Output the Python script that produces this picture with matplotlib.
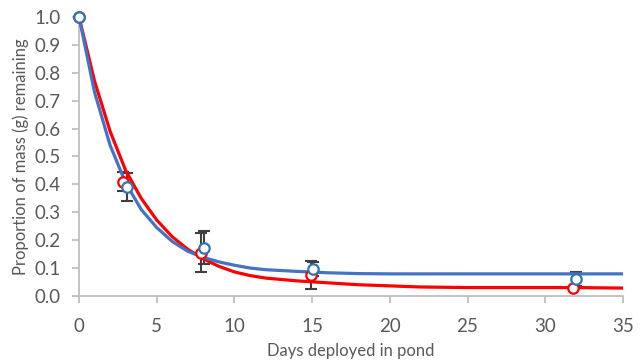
import matplotlib
matplotlib.use("Agg")
import matplotlib.pyplot as plt

# Fitted curves
fit_days = [0, 1, 2, 3, 4, 5, 6, 7, 8, 9, 10, 11, 12, 14, 16, 18, 20, 22, 25, 28, 30, 32, 35]
red_fit = [1.0, 0.77, 0.59, 0.45, 0.35, 0.272, 0.212, 0.167, 0.133, 0.106, 0.086, 0.073,
           0.064, 0.054, 0.047, 0.040, 0.036, 0.032, 0.030, 0.030, 0.030, 0.030, 0.028]
blue_fit = [1.0, 0.73, 0.54, 0.405, 0.31, 0.245, 0.195, 0.16, 0.138, 0.122, 0.11, 0.10,
            0.094, 0.088, 0.083, 0.080, 0.079, 0.079, 0.079, 0.079, 0.079, 0.079, 0.079]

# Observed points
red_days = [0, 2.85, 7.85, 14.93, 31.8]
red_obs = [1.0, 0.41, 0.155, 0.075, 0.028]
red_err = [0.0, 0.035, 0.07, 0.05, 0.0]
blue_days = [0, 3.1, 8.05, 15.05, 32.0]
blue_obs = [1.0, 0.392, 0.173, 0.097, 0.062]
blue_err = [0.0, 0.05, 0.06, 0.025, 0.025]

x_ticks = [0, 5, 10, 15, 20, 25, 30, 35]
y_ticks = [0.0, 0.1, 0.2, 0.3, 0.4, 0.5, 0.6, 0.7, 0.8, 0.9, 1.0]

plt.rcParams['font.family'] = ['Lato', 'DejaVu Sans']
text_color = '#595959'
grey = '#BFBFBF'

fig = plt.figure(figsize=(6.44, 3.6), dpi=100)
ax = fig.add_axes([0.1227, 0.178, 0.8446, 0.775])

ax.errorbar(red_days, red_obs, yerr=red_err, fmt='none', ecolor='#404040',
            elinewidth=1.5, capsize=4, capthick=1.5, zorder=2)
ax.errorbar(blue_days, blue_obs, yerr=blue_err, fmt='none', ecolor='#404040',
            elinewidth=1.5, capsize=4, capthick=1.5, zorder=2)

ax.plot(fit_days, red_fit, color='#FF0000', lw=2.3, zorder=3, solid_capstyle='round')
ax.plot(fit_days, blue_fit, color='#4472C4', lw=2.3, zorder=4, solid_capstyle='round')

ax.plot(red_days, red_obs, 'o', ms=7.5, mfc='white', mec='#FF0000', mew=1.6,
        zorder=5, clip_on=False)
ax.plot(blue_days, blue_obs, 'o', ms=7.5, mfc='white', mec='#2E75B6', mew=1.6,
        zorder=6, clip_on=False)

ax.set_xlim(0, 35)
ax.set_ylim(0, 1.0)
ax.set_xticks(x_ticks)
ax.set_xticklabels([str(t) for t in x_ticks])
ax.set_yticks(y_ticks)
ax.set_yticklabels([f"{t:.1f}" for t in y_ticks])

for s in ['top', 'right']:
    ax.spines[s].set_visible(False)
for s in ['left', 'bottom']:
    ax.spines[s].set_color(grey)
    ax.spines[s].set_linewidth(1.3)

ax.tick_params(axis='both', colors=grey, labelcolor=text_color, labelsize=13.5,
               length=5, width=1.3, direction='out')
ax.tick_params(axis='x', pad=11)
ax.tick_params(axis='y', pad=8)

ax.set_xlabel('Days deployed in pond', color=text_color, fontsize=12, labelpad=6)
ax.set_ylabel('Proportion of mass (g) remaining', color=text_color, fontsize=12, labelpad=4)

fig.savefig('out.png', dpi=100)
